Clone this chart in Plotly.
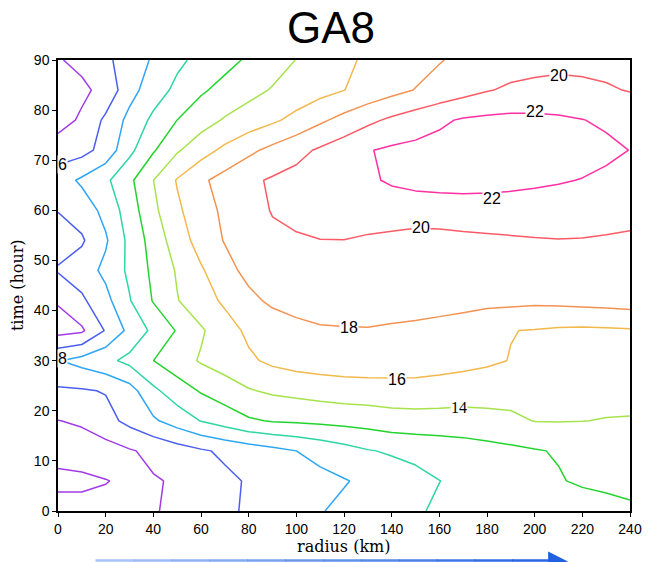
import plotly.graph_objects as go

# ---------------------------------------------------------------------------
# Data: field sampled every 10 km in radius and every 6 h in time
# ---------------------------------------------------------------------------
radius_km = list(range(0, 241, 10))
time_hour = list(range(0, 91, 6))

z_t00 = [3.4, 3.48, 3.6, 3.7, 3.85, 4.43, 5.05, 5.66, 6.24, 6.8, 7.35, 7.9, 8.39,
         8.86, 9.33, 9.8, 10.25, 10.5, 10.7, 10.8, 10.85, 10.9, 10.9, 11.1, 11.51]
z_t06 = [4.35, 4.3, 4.05, 3.75, 3.85, 4.2, 4.94, 5.6, 6.17, 6.6, 7.03, 7.45, 7.88,
         8.38, 8.92, 9.45, 9.98, 10.35, 10.72, 11.08, 11.45, 11.85, 12.3, 12.6, 12.85]
z_t12 = [3.5, 3.28, 3.2, 3.82, 4.46, 5.11, 5.75, 6.34, 6.9, 7.45, 8.0, 8.63, 9.25,
         9.88, 10.22, 10.49, 10.77, 11.04, 11.32, 11.59, 11.86, 12.15, 12.3, 12.35, 12.4]
z_t18 = [3.97, 4.2, 5.3, 6.56, 7.71, 8.89, 10.06, 10.9, 11.75, 12.14, 12.27, 12.43, 12.62,
         12.8, 13.12, 13.21, 13.23, 13.22, 13.37, 13.63, 14.05, 14.08, 14.03, 13.93, 13.9]
z_t24 = [5.7, 5.8, 6.12, 7.2, 9.59, 11.04, 12.18, 13.01, 13.85, 14.3, 14.58, 14.84, 15.04,
         15.12, 15.2, 15.24, 15.07, 14.92, 14.87, 14.71, 14.68, 14.68, 14.66, 14.57, 14.54]
z_t30 = [7.9, 8.68, 9.49, 10.53, 11.99, 13.14, 14.19, 14.93, 15.68, 16.4, 16.8, 17.0, 17.1,
         17.15, 17.1, 17.0, 16.85, 16.6, 16.3, 15.94, 15.32, 15.29, 15.27, 15.23, 15.24]
z_t36 = [3.3, 3.7, 6.15, 8.53, 10.44, 12.15, 13.76, 15.12, 16.4, 16.8, 17.69, 17.86, 17.9,
         17.92, 17.83, 17.76, 17.67, 17.57, 17.48, 16.05, 15.9, 15.7, 15.65, 15.7, 15.8]
z_t42 = [4.15, 5.66, 7.4, 9.87, 12.13, 13.91, 15.15, 16.34, 17.47, 18.4, 18.41, 18.58, 18.62,
         18.64, 18.55, 18.48, 18.38, 18.29, 18.19, 18.54, 18.42, 18.52, 18.65, 18.77, 18.94]
z_t48 = [6.15, 7.0, 8.48, 10.39, 12.44, 14.19, 15.78, 17.27, 18.6, 19.0, 19.1, 19.3, 19.3,
         19.17, 19.0, 18.75, 18.72, 18.83, 18.88, 19.13, 19.14, 19.23, 19.28, 19.27, 19.26]
z_t54 = [5.3, 5.75, 7.75, 10.52, 12.82, 15.0, 16.79, 18.12, 18.88, 19.64, 19.82, 19.97, 19.98,
         19.7, 19.42, 19.03, 19.07, 19.36, 19.56, 19.72, 19.86, 19.94, 19.9, 19.77, 19.58]
z_t60 = [6.05, 6.9, 8.59, 11.0, 13.55, 15.66, 17.17, 18.38, 19.3, 20.1, 20.45, 20.75, 21.0,
         21.2, 21.35, 21.45, 21.5, 21.5, 21.45, 21.4, 21.3, 21.2, 21.1, 21.0, 20.9]
z_t66 = [7.06, 8.33, 9.62, 11.57, 13.98, 16.14, 17.66, 18.71, 19.61, 20.23, 20.62, 21.02, 21.42,
         21.82, 22.15, 22.3, 22.35, 22.4, 22.4, 22.35, 22.25, 22.12, 21.95, 21.6, 21.45]
z_t72 = [5.0, 5.3, 6.75, 9.5, 11.8, 13.77, 15.19, 16.44, 17.56, 18.53, 19.42, 20.28, 21.09,
         21.9, 22.3, 22.5, 22.65, 22.75, 22.8, 22.8, 22.75, 22.7, 22.6, 22.42, 21.97]
z_t78 = [3.2, 4.3, 6.4, 8.56, 10.44, 12.01, 13.15, 14.19, 14.93, 15.67, 16.59, 17.66, 18.63,
         19.56, 20.35, 21.01, 21.68, 22.2, 22.4, 22.5, 22.45, 22.3, 22.05, 21.7, 21.4]
z_t84 = [3.7, 3.6, 4.6, 7.3, 9.03, 10.48, 11.73, 12.61, 13.4, 14.14, 14.75, 15.36, 15.97,
         16.67, 17.4, 18.06, 18.67, 19.28, 19.88, 20.3, 20.5, 20.55, 20.4, 20.2, 19.9]
z_t90 = [3.85, 4.5, 5.64, 6.83, 8.25, 9.58, 10.57, 11.4, 12.27, 13.16, 14.04, 14.84, 15.64,
         16.29, 16.83, 17.36, 17.89, 18.4, 18.8, 19.1, 19.3, 19.5, 19.5, 19.4, 19.3]

field = [z_t00, z_t06, z_t12, z_t18, z_t24, z_t30, z_t36, z_t42,
         z_t48, z_t54, z_t60, z_t66, z_t72, z_t78, z_t84, z_t90]

# contour levels 4, 6, ..., 22 and their line colours
level_start, level_end, level_step = 4, 22, 2
level_colors = ["#a23be6", "#4b5ef0", "#2ea6f5", "#2ed6a2", "#22d42c",
                "#a6e34c", "#f2b84b", "#f39352", "#fb5b66", "#ff2fa3"]

# inline contour labels: the level each one names
label_levels = [6, 8, 14, 16, 18, 20, 20, 22, 22]

# ---------------------------------------------------------------------------
# Styling / placement
# ---------------------------------------------------------------------------
label_anchor_r = [1.7, 1.7, 168.4, 142.3, 122.0, 152.3, 210.2, 200.2, 182.0]
label_anchor_t = [69.2, 30.4, 20.7, 26.2, 36.6, 56.5, 86.9, 79.7, 62.4]
label_serif = [False, False, True, False, False, False, False, False, False]

n_levels = len(level_colors)
colorscale = [[i / (n_levels - 1), c] for i, c in enumerate(level_colors)]

fig = go.Figure()
fig.add_trace(go.Contour(
    x=radius_km,
    y=time_hour,
    z=field,
    zmin=level_start,
    zmax=level_end,
    colorscale=colorscale,
    showscale=False,
    contours=dict(coloring="lines", start=level_start, end=level_end,
                  size=level_step, showlabels=False),
    line=dict(width=1.5, smoothing=0),
    hoverinfo="skip",
))


# plot area is 580 x 451 px, with its lower-left corner at pixel (58, 511)
def px_to_paper(px, py):
    return (px - 58) / 580, (511 - py) / 451


annotations = []
for lev, r, t, serif in zip(label_levels, label_anchor_r, label_anchor_t, label_serif):
    annotations.append(dict(
        x=r, y=t, xref="x", yref="y", text=str(lev), showarrow=False,
        font=dict(size=16, color="black",
                  family="Liberation Serif" if serif else "Liberation Sans"),
        bgcolor="white", borderpad=0, xanchor="center", yanchor="middle",
    ))

# axis titles
_, y_xt = px_to_paper(0, 546)
annotations.append(dict(
    x=0.5, y=y_xt, xref="paper", yref="paper", text="radius (km)",
    showarrow=False, xanchor="center", yanchor="middle",
    font=dict(family="DejaVu Serif", size=16, color="black"),
))
x_yt, _ = px_to_paper(17, 0)
annotations.append(dict(
    x=x_yt, y=0.5, xref="paper", yref="paper", text="time (hour)",
    showarrow=False, xanchor="center", yanchor="middle", textangle=-90,
    font=dict(family="DejaVu Serif", size=16, color="black"),
))
# title
x_ti, y_ti = px_to_paper(335, 28)
annotations.append(dict(
    x=x_ti, y=y_ti, xref="paper", yref="paper", text="GA8",
    showarrow=False, xanchor="center", yanchor="middle",
    font=dict(family="Liberation Sans", size=44, color="black"),
))

# direction arrow under the chart, shading from light to deep blue
shapes = []
n_seg = 12
x0_px, x1_px, y_px = 96, 557, 560.5
c0, c1 = (172, 200, 246), (34, 96, 226)
for i in range(n_seg):
    a, b = i / n_seg, (i + 1) / n_seg
    xa, ya = px_to_paper(x0_px + a * (x1_px - x0_px), y_px)
    xb, _ = px_to_paper(x0_px + b * (x1_px - x0_px), y_px)
    m = (a + b) / 2
    col = "rgb({},{},{})".format(*[round(c0[k] + m * (c1[k] - c0[k])) for k in range(3)])
    shapes.append(dict(type="line", xref="paper", yref="paper",
                       x0=xa, x1=xb + 0.002, y0=ya, y1=ya,
                       line=dict(color=col, width=2.5)))
hx0, hy0 = px_to_paper(555, 551.5)
hx1, hy1 = px_to_paper(575, 561.5)
hx2, hy2 = px_to_paper(555, 571.5)
shapes.append(dict(type="path", xref="paper", yref="paper",
                   path=f"M {hx0} {hy0} L {hx1} {hy1} L {hx2} {hy2} Z",
                   fillcolor="rgb(34,96,226)", line=dict(width=0)))

axis_common = dict(
    showgrid=False, zeroline=False, showline=True, mirror=True,
    linecolor="black", linewidth=1.5, ticks="outside", ticklen=4,
    tickwidth=1.2, tickcolor="black",
    tickfont=dict(family="Liberation Sans", size=14, color="black"),
)

fig.update_layout(
    width=654, height=562,
    margin=dict(l=58, r=16, t=60, b=51),
    paper_bgcolor="white", plot_bgcolor="white",
    xaxis=dict(range=[0, 240], tick0=0, dtick=20, **axis_common),
    yaxis=dict(range=[0, 90], tick0=0, dtick=10, **axis_common),
    annotations=annotations,
    shapes=shapes,
    showlegend=False,
)

fig.write_html("out.html")
